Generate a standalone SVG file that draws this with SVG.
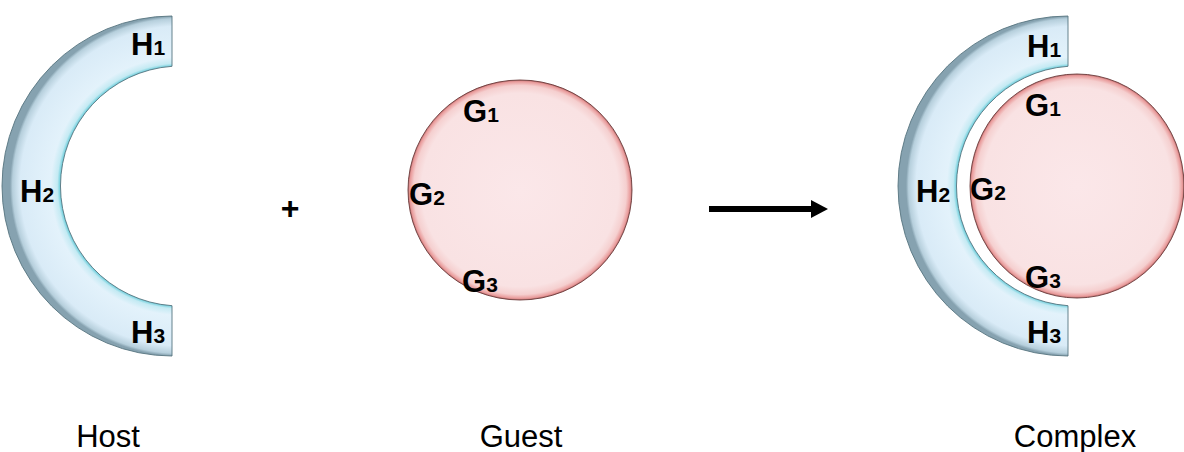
<svg xmlns="http://www.w3.org/2000/svg" width="1184" height="452" viewBox="0 0 1184 452">
<style>
.lbl{font-family:"Liberation Sans",Arial,sans-serif;font-weight:bold;font-size:31px;fill:#000}
.sub{font-size:21px}
.cap{font-family:"Liberation Sans",Arial,sans-serif;font-size:31px;fill:#000}
.band{stroke:#56747f;stroke-width:0.9}
.ball{stroke:#6b3a3a;stroke-width:0.9}
</style>
<defs>
<radialGradient id="bandA" gradientUnits="userSpaceOnUse" cx="180" cy="186" r="170">
<stop offset="0.705" stop-color="#6fcfdc"/>
<stop offset="0.722" stop-color="#c4eaf3"/>
<stop offset="0.76" stop-color="#e3f2fb"/>
<stop offset="0.94" stop-color="#d9ebf7"/>
<stop offset="0.985" stop-color="#b6cfdc"/>
<stop offset="1" stop-color="#86a2b0"/>
</radialGradient>
<radialGradient id="bandB" gradientUnits="userSpaceOnUse" cx="1076" cy="186" r="170">
<stop offset="0.705" stop-color="#6fcfdc"/>
<stop offset="0.722" stop-color="#c4eaf3"/>
<stop offset="0.76" stop-color="#e3f2fb"/>
<stop offset="0.94" stop-color="#d9ebf7"/>
<stop offset="0.985" stop-color="#b6cfdc"/>
<stop offset="1" stop-color="#86a2b0"/>
</radialGradient>
<radialGradient id="ballG" cx="0.5" cy="0.5" r="0.5">
<stop offset="0" stop-color="#fbe7e9"/>
<stop offset="0.88" stop-color="#f9e2e3"/>
<stop offset="0.95" stop-color="#f5cfcf"/>
<stop offset="0.985" stop-color="#e99b9b"/>
<stop offset="1" stop-color="#b86a6a"/>
</radialGradient>
</defs>

<g id="host">
<path class="band" fill="url(#bandA)" d="M172,16 A170,170 0 0 0 172,356 L172,305.7 A120,120 0 0 1 172,66.3 Z"/>
<text class="lbl" x="131" y="55">H<tspan class="sub">1</tspan></text>
<text class="lbl" x="20" y="202">H<tspan class="sub">2</tspan></text>
<text class="lbl" x="131" y="343">H<tspan class="sub">3</tspan></text>
<text class="cap" x="108" y="447" text-anchor="middle">Host</text>
</g>

<g id="plus">
<text class="lbl" x="290" y="219" text-anchor="middle" style="font-size:32px">+</text>
</g>

<g id="guest">
<ellipse class="ball" fill="url(#ballG)" cx="520" cy="190" rx="112" ry="110"/>
<text class="lbl" x="463" y="122">G<tspan class="sub">1</tspan></text>
<text class="lbl" x="409" y="205">G<tspan class="sub">2</tspan></text>
<text class="lbl" x="462" y="292">G<tspan class="sub">3</tspan></text>
<text class="cap" x="521" y="447" text-anchor="middle">Guest</text>
</g>

<g id="connectors">
<line x1="709" y1="209" x2="813" y2="209" stroke="#000" stroke-width="6"/>
<polygon points="811,200 828,209 811,218" fill="#000"/>
</g>

<g id="complex">
<path class="band" fill="url(#bandB)" d="M1068,16 A170,170 0 0 0 1068,356 L1068,305.7 A120,120 0 0 1 1068,66.3 Z"/>
<ellipse class="ball" fill="url(#ballG)" cx="1077" cy="186" rx="107" ry="112"/>
<text class="lbl" x="1027" y="57">H<tspan class="sub">1</tspan></text>
<text class="lbl" x="916" y="202">H<tspan class="sub">2</tspan></text>
<text class="lbl" x="1027" y="343">H<tspan class="sub">3</tspan></text>
<text class="lbl" x="1025" y="116">G<tspan class="sub">1</tspan></text>
<text class="lbl" x="970" y="200">G<tspan class="sub">2</tspan></text>
<text class="lbl" x="1025" y="288">G<tspan class="sub">3</tspan></text>
<text class="cap" x="1075" y="447" text-anchor="middle">Complex</text>
</g>
</svg>
